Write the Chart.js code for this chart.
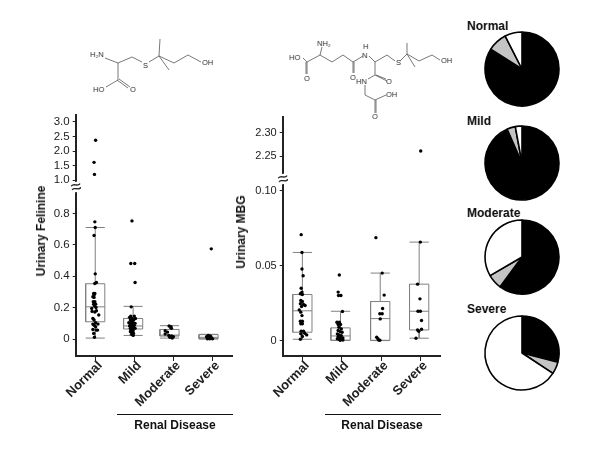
<!DOCTYPE html>
<html>
<head>
<meta charset="utf-8">
<script src="https://cdn.jsdelivr.net/npm/chart.js@4"></script>
<style>
  body { margin: 0; background: #fff; font-family: "Liberation Sans", Arial, sans-serif; color: #111; }
  #page { position: relative; width: 600px; height: 450px; overflow: hidden; background: #fff; filter: grayscale(1); }
  #page canvas, #page svg, .lbl, .rule { position: absolute; }
  .lbl { font-weight: bold; font-size: 12px; white-space: nowrap; line-height: 14px; }
  .ytitle { transform: translate(-50%, -50%) rotate(-90deg); }
  .center { transform: translateX(-50%); }
  .rule { height: 1px; background: #111; }
  .brk { position: absolute; font-size: 19px; line-height: 10px; background: #fff; color: #222; transform: translate(-50%, -50%) rotate(-12deg); }
  svg text { font-size: 7.5px; fill: #333; font-family: "Liberation Sans", Arial, sans-serif; }
  svg polyline { fill: none; stroke: #555; stroke-width: 0.8; }
</style>
</head>
<body>
<div id="page">
  <!-- 分子構造 -->
  <svg width="600" height="450" style="left:0;top:0">
    <polyline points="105,58 118,63 132,57 142,62"/>
    <polyline points="149,62 159,56 160,39"/>
    <polyline points="159,56 169,70"/>
    <polyline points="159,56 174,63 188,55 201,62"/>
    <polyline points="118,63 118,80 106,87"/>
    <polyline points="117,80 128,88"/>
    <polyline points="119,79 130,87"/>
    <text x="90" y="57">H₂N</text>
    <text x="143" y="68">S</text>
    <text x="202" y="65">OH</text>
    <text x="93" y="92">HO</text>
    <text x="130" y="92">O</text>

    <polyline points="303,58 307,62 320,55 332,62 343,55 353,62 363,56"/>
    <polyline points="320,55 322,47"/>
    <polyline points="307,62 307,74"/>
    <polyline points="306,62 306,74"/>
    <polyline points="353,62 353,73"/>
    <polyline points="354,62 354,73"/>
    <polyline points="369,56 375,62 387,55 395,61"/>
    <polyline points="400,61 407,54 407,43"/>
    <polyline points="407,54 415,67"/>
    <polyline points="407,54 419,61 432,55 440,60"/>
    <polyline points="375,62 375,75 387,81"/>
    <polyline points="376,75 386,79"/>
    <polyline points="375,75 368,79"/>
    <polyline points="365,85 365,95 375,100 386,95"/>
    <polyline points="375,100 375,113"/>
    <polyline points="376,100 376,113"/>
    <text x="289" y="60">HO</text>
    <text x="317" y="46">NH₂</text>
    <text x="304" y="81">O</text>
    <text x="350" y="80">O</text>
    <text x="363" y="49">H</text>
    <text x="362" y="58">N</text>
    <text x="396" y="65">S</text>
    <text x="441" y="63">OH</text>
    <text x="386" y="84">O</text>
    <text x="356" y="84">HN</text>
    <text x="386" y="97">OH</text>
    <text x="372" y="119">O</text>
  </svg>

  <canvas id="felinineChart" width="240" height="310" style="left:0;top:105px"></canvas>
  <canvas id="mbgChart" width="210" height="310" style="left:240px;top:105px"></canvas>

  <div class="brk" style="left:76px;top:187px">≈</div>
  <div class="brk" style="left:283px;top:179px">≈</div>

  <div class="lbl ytitle" style="left:41px;top:231px">Urinary Felinine</div>
  <div class="lbl ytitle" style="left:241px;top:232px">Urinary MBG</div>

  <div class="rule" style="left:117px;top:414px;width:116px"></div>
  <div class="rule" style="left:325px;top:414px;width:116px"></div>
  <div class="lbl center" style="left:175px;top:418px">Renal Disease</div>
  <div class="lbl center" style="left:382px;top:418px">Renal Disease</div>

  <div class="lbl" style="left:467px;top:19px">Normal</div>
  <div class="lbl" style="left:467px;top:114px">Mild</div>
  <div class="lbl" style="left:467px;top:206px">Moderate</div>
  <div class="lbl" style="left:467px;top:302px">Severe</div>
  <canvas id="pieNormal" width="84" height="84" style="left:480px;top:27px"></canvas>
  <canvas id="pieMild" width="84" height="84" style="left:480px;top:121px"></canvas>
  <canvas id="pieModerate" width="84" height="84" style="left:480px;top:215px"></canvas>
  <canvas id="pieSevere" width="84" height="84" style="left:480px;top:311px"></canvas>
</div>

<script>
const categories = ['Normal', 'Mild', 'Moderate', 'Severe'];

// --- Urinary Felinine ---
const felNormalVals = [2.37, 1.61, 1.195, .746, .710, .659, .415, .360, .354, .290, .290, .280, .269, .265, .237, .237, .222, .222, .210, .195, .201, .180, .176, .172, .153, .131, .121, .104, .095, .095, .087, .078, .061, .057, .057, .036, .011];
const felNormalJit = [.01, -.03, -.02, -.01, 0, -.03, 0, .03, -.01, -.04, -.01, -.03, -.06, -.03, -.05, -.01, -.04, .01, -.02, -.09, .02, .03, -.08, -.01, .09, -.06, -.03, .01, .07, -.06, -.03, .01, -.06, .06, .03, -.04, -.02];
const felMildVals = [.752, .481, .481, .36, .205, .146, .146, .138, .131, .131, .121, .121, .11, .104, .104, .10, .095, .089, .087, .083, .078, .074, .068, .064, .068, .057, .053, .047, .042, .036, .03, .023];
const felMildJit = [-.06, -.09, .01, .02, -.08, -.09, 0, -.12, -.05, .03, -.1, -.02, -.07, -.14, -.03, .02, -.1, -.05, 0, -.12, -.07, -.02, -.1, -.05, .02, -.09, -.03, -.1, -.05, -.02, -.07, -.03];
const felModerateVals = [.083, .078, .068, .053, .044, .032, .023, .019, .015, .011, .006];
const felModerateJit = [-.11, -.06, -.05, -.21, -.15, -.21, -.12, -.05, 0, -.09, -.03];
const felSevereVals = [.574, .023, .019, .015, .011, .006, .002, .002, .002, .006, .015];
const felSevereJit = [-.03, -.11, -.06, -.15, -.09, -.03, -.13, -.07, 0, -.1, -.04];
const felBoxX = [0, -.03, -.10, -.10];
const felQ1 = [.11, .064, .019, .002];
const felMedian = [.205, .083, .025, .011];
const felQ3 = [.352, .131, .061, .028];
const felWhiskLo = [.006, .023, .006, 0];
const felWhiskHi = [.71, .208, .085, .03];
const felLowTicks = [0, .2, .4, .6, .8];
const felTopTicks = [1, 1.5, 2, 2.5, 3];

// --- Urinary MBG ---
const mbgNormalVals = [.0708, .0589, .0478, .0433, .035, .0324, .0313, .0308, .0268, .0261, .0246, .0241, .0234, .0228, .0205, .019, .0167, .0129, .0129, .0112, .0112, .0063, .0063, .0049, .0038, .0045, .0027, .0009];
const mbgNormalJit = [-.03, -.01, -.01, .02, -.03, -.01, -.05, 0, -.04, 0, -.05, .03, .07, -.02, -.08, -.04, -.01, -.05, 0, -.04, 0, -.03, .03, .06, .11, -.04, 0, -.05];
const mbgMildVals = [.0438, .0324, .0301, .0301, .0194, .0123, .0123, .0107, .0107, .0089, .0078, .0067, .006, .0056, .0045, .0038, .0033, .0027, .0022, .0018, .0013, .0009, .0007, .0004, .0002];
const mbgMildJit = [-.06, -.09, -.08, -.02, .02, -.12, -.06, -.09, -.03, -.07, -.01, -.09, -.04, .01, -.11, -.06, -.01, -.09, -.03, .03, -.11, -.07, -.02, .03, -.04];
const mbgModerateVals = [.0688, .0451, .0304, .0214, .0179, .0179, .0145, .0022, .0013, .0004, .0002];
const mbgModerateJit = [-.13, .03, .08, .04, -.03, .03, -.02, -.11, -.08, -.06, -.03];
const mbgSevereVals = [2.261, .0658, .0377, .0279, .0196, .0196, .0134, .0071, .0076, .0062, .0016];
const mbgSevereJit = [.01, 0, -.07, -.01, -.06, 0, .03, -.07, .03, -.04, -.11];
const mbgBoxX = [0, -.03, -.02, -.03];
const mbgQ1 = [.0056, .0002, .0002, .0071];
const mbgMedian = [.0199, .0031, .0147, .0196];
const mbgQ3 = [.0308, .0085, .0261, .0377];
const mbgWhiskLo = [.0009, .0002, 0, .0016];
const mbgWhiskHi = [.0589, .0196, .0451, .0658];
const mbgLowTicks = [0, .05, .10];
const mbgTopTicks = [2.25, 2.30];

// --- 円グラフ (黒, 灰, 白) ---
const pieNormal = [84, 8.5, 7.5];
const pieMild = [93.4, 3.7, 2.9];
const pieModerate = [60.1, 6.5, 33.4];
const pieSevere = [29, 5.3, 65.7];
const pieColors = ['#000000', '#c4c4c4', '#ffffff'];

const FONT = '"Liberation Sans", Arial, sans-serif';
const BOX_COLOR = '#808080';
const BOX_HALF = 0.245;

// 箱ひげ1本ぶんの線データセットを作る
function boxDatasets(i, cx, q1, med, q3, lo, hi) {
    const seg = (pts) => ({
        type: 'scatter', showLine: true, data: pts, borderColor: BOX_COLOR, borderWidth: 1,
        pointRadius: 0, yAxisID: 'y', clip: false
    });
    const l = i + cx - BOX_HALF, r = i + cx + BOX_HALF, c = i + cx;
    return [
        seg([{x: l, y: q1}, {x: r, y: q1}, {x: r, y: q3}, {x: l, y: q3}, {x: l, y: q1}]),
        seg([{x: l, y: med}, {x: r, y: med}]),
        seg([{x: c, y: q3}, {x: c, y: hi}]),
        seg([{x: c, y: q1}, {x: c, y: lo}]),
        seg([{x: l, y: hi}, {x: r, y: hi}]),
        seg([{x: l, y: lo}, {x: r, y: lo}])
    ];
}

function buildPanel(id, groups, box, cfg) {
    const low = [], top = [];
    groups.forEach(([vals, jit], i) => {
        vals.forEach((v, k) => {
            (v > cfg.breakAt ? top : low).push({x: i + jit[k], y: v});
        });
    });
    const dot = (data, axis) => ({
        type: 'scatter', data, yAxisID: axis, backgroundColor: '#000', borderWidth: 0, pointRadius: 1.7, clip: false
    });
    const datasets = [dot(low, 'y'), dot(top, 'yTop')];
    categories.forEach((c, i) => {
        datasets.push(...boxDatasets(i, box.x[i], box.q1[i], box.med[i], box.q3[i], box.lo[i], box.hi[i]));
    });
    const yCommon = (ticks, fmt) => ({
        type: 'linear', position: 'left', stack: 'panel',
        border: {color: '#222', width: 2},
        grid: {drawOnChartArea: false, drawTicks: true, tickLength: 3, tickColor: '#222'},
        afterBuildTicks: s => { s.ticks = ticks.map(v => ({value: v})); },
        afterFit: s => { s.width = cfg.yWidth; },
        ticks: {color: '#222', padding: 3, autoSkip: false, font: {family: FONT, size: cfg.tickSize}, callback: fmt}
    });
    new Chart(document.getElementById(id).getContext('2d'), {
        type: 'scatter',
        data: {datasets},
        options: {
            responsive: false, animation: false,
            layout: {padding: {top: cfg.padTop, right: cfg.padRight, left: 0, bottom: 0}},
            plugins: {legend: {display: false}, tooltip: {enabled: false}},
            scales: {
                x: {
                    type: 'linear', min: -0.5, max: 3.5,
                    border: {color: '#222', width: 2},
                    grid: {drawOnChartArea: false, drawTicks: true, tickLength: 5, tickColor: '#222'},
                    afterBuildTicks: s => { s.ticks = categories.map((c, i) => ({value: i})); },
                    afterFit: s => { s.height = 59; },
                    ticks: {
                        color: '#222', autoSkip: false, minRotation: 45, maxRotation: 45, padding: -3, labelOffset: 5,
                        font: {family: FONT, size: 13, weight: 'bold'},
                        callback: v => categories[v]
                    }
                },
                y: Object.assign(yCommon(cfg.lowTicks, cfg.lowFmt), {min: cfg.lowMin, max: cfg.lowMax, stackWeight: cfg.lowWeight}),
                yTop: Object.assign(yCommon(cfg.topTicks, cfg.topFmt), {min: cfg.topMin, max: cfg.topMax, stackWeight: cfg.topWeight})
            }
        }
    });
}

buildPanel('felinineChart',
    [[felNormalVals, felNormalJit], [felMildVals, felMildJit], [felModerateVals, felModerateJit], [felSevereVals, felSevereJit]],
    {x: felBoxX, q1: felQ1, med: felMedian, q3: felQ3, lo: felWhiskLo, hi: felWhiskHi},
    {
        breakAt: 0.966, yWidth: 75.7, padTop: 10, padRight: 8, tickSize: 11.5,
        lowTicks: felLowTicks, lowMin: -0.108, lowMax: 0.966, lowWeight: 168.7,
        topTicks: felTopTicks, topMin: 0.75, topMax: 3.24, topWeight: 72.3,
        lowFmt: v => v === 0 ? '0' : v.toFixed(1), topFmt: v => v.toFixed(1)
    });

buildPanel('mbgChart',
    [[mbgNormalVals, mbgNormalJit], [mbgMildVals, mbgMildJit], [mbgModerateVals, mbgModerateJit], [mbgSevereVals, mbgSevereJit]],
    {x: mbgBoxX, q1: mbgQ1, med: mbgMedian, q3: mbgQ3, lo: mbgWhiskLo, hi: mbgWhiskHi},
    {
        breakAt: 0.1078, yWidth: 42.7, padTop: 11.7, padRight: 10, tickSize: 11,
        lowTicks: mbgLowTicks, lowMin: -0.0103, lowMax: 0.1078, lowWeight: 176,
        topTicks: mbgTopTicks, topMin: 2.2007, topMax: 2.334, topWeight: 62.3,
        lowFmt: v => v === 0 ? '0' : v.toFixed(2), topFmt: v => v.toFixed(2)
    });

// 円グラフ
function buildPie(id, values) {
    new Chart(document.getElementById(id).getContext('2d'), {
        type: 'pie',
        data: {labels: ['a', 'b', 'c'], datasets: [{data: values, backgroundColor: pieColors, borderColor: '#000', borderWidth: 1.6}]},
        options: {
            responsive: false, animation: false, radius: 37,
            layout: {padding: 0},
            plugins: {legend: {display: false}, tooltip: {enabled: false}}
        }
    });
}
buildPie('pieNormal', pieNormal);
buildPie('pieMild', pieMild);
buildPie('pieModerate', pieModerate);
buildPie('pieSevere', pieSevere);
</script>
</body>
</html>
